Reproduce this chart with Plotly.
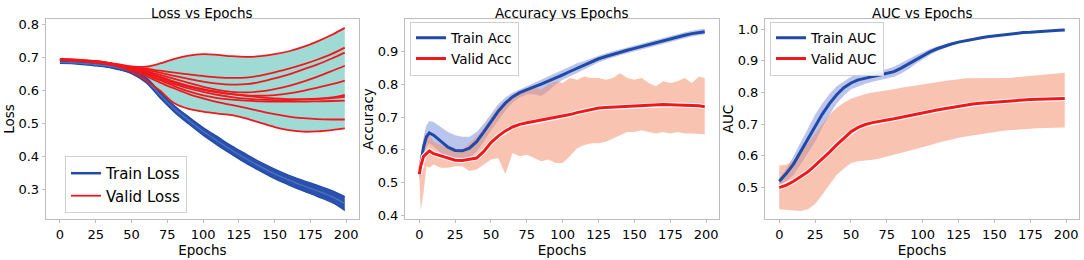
import plotly.graph_objects as go

# ---------------- data ----------------
E1 = [0, 10, 20, 30, 40, 50, 60, 70, 80, 90, 100, 110, 120, 130, 140, 150, 160, 170, 180, 190, 199]
train_loss_hi = [0.689, 0.688, 0.686, 0.681, 0.675, 0.664, 0.641, 0.596, 0.555, 0.521, 0.489, 0.461, 0.433, 0.408, 0.384, 0.363, 0.344, 0.328, 0.313, 0.297, 0.279]
train_loss_mid = [0.686, 0.685, 0.682, 0.677, 0.670, 0.658, 0.633, 0.587, 0.545, 0.510, 0.477, 0.448, 0.420, 0.394, 0.370, 0.348, 0.329, 0.312, 0.296, 0.279, 0.258]
train_loss_lo = [0.683, 0.682, 0.678, 0.673, 0.665, 0.652, 0.625, 0.578, 0.535, 0.499, 0.465, 0.435, 0.407, 0.380, 0.356, 0.333, 0.314, 0.296, 0.279, 0.261, 0.237]
valid_loss_folds = [
    [0.697, 0.695, 0.692, 0.688, 0.681, 0.674, 0.673, 0.683, 0.697, 0.707, 0.711, 0.709, 0.705, 0.703, 0.705, 0.711, 0.720, 0.733, 0.750, 0.770, 0.791],
    [0.696, 0.694, 0.691, 0.687, 0.680, 0.672, 0.667, 0.661, 0.655, 0.650, 0.645, 0.641, 0.639, 0.640, 0.646, 0.656, 0.667, 0.680, 0.695, 0.712, 0.731],
    [0.696, 0.694, 0.691, 0.686, 0.679, 0.671, 0.664, 0.655, 0.645, 0.636, 0.628, 0.622, 0.619, 0.620, 0.627, 0.638, 0.650, 0.665, 0.680, 0.698, 0.716],
    [0.695, 0.693, 0.690, 0.686, 0.679, 0.670, 0.660, 0.648, 0.636, 0.624, 0.612, 0.603, 0.597, 0.595, 0.598, 0.605, 0.615, 0.628, 0.643, 0.660, 0.676],
    [0.695, 0.693, 0.690, 0.685, 0.678, 0.669, 0.657, 0.643, 0.628, 0.615, 0.605, 0.597, 0.590, 0.586, 0.585, 0.587, 0.592, 0.600, 0.610, 0.620, 0.631],
    [0.694, 0.693, 0.689, 0.685, 0.678, 0.668, 0.655, 0.640, 0.625, 0.612, 0.603, 0.595, 0.590, 0.585, 0.580, 0.577, 0.575, 0.575, 0.576, 0.580, 0.588],
    [0.694, 0.692, 0.689, 0.684, 0.677, 0.667, 0.652, 0.635, 0.620, 0.607, 0.597, 0.588, 0.581, 0.576, 0.573, 0.572, 0.572, 0.573, 0.575, 0.578, 0.582],
    [0.694, 0.692, 0.689, 0.684, 0.677, 0.666, 0.650, 0.632, 0.614, 0.598, 0.586, 0.578, 0.573, 0.570, 0.568, 0.567, 0.567, 0.567, 0.568, 0.569, 0.570],
    [0.693, 0.692, 0.688, 0.683, 0.676, 0.664, 0.645, 0.625, 0.607, 0.590, 0.577, 0.566, 0.557, 0.548, 0.538, 0.529, 0.522, 0.517, 0.514, 0.513, 0.513],
    [0.693, 0.691, 0.688, 0.683, 0.674, 0.658, 0.632, 0.600, 0.562, 0.545, 0.537, 0.531, 0.526, 0.516, 0.503, 0.490, 0.481, 0.476, 0.477, 0.481, 0.486],
]

E2 = [0, 1, 3, 5, 7, 10, 15, 20, 25, 30, 35, 40, 45, 50, 55, 60, 65, 70, 75, 80, 85, 90, 95, 100,
      105, 110, 115, 120, 125, 130, 135, 140, 145, 150, 155, 160, 165, 170, 175, 180, 185, 190, 195, 199]
train_acc = [0.53, 0.56, 0.61, 0.64, 0.652, 0.645, 0.625, 0.608, 0.598, 0.597, 0.605, 0.625, 0.655, 0.687, 0.718, 0.743, 0.762, 0.775, 0.785, 0.793, 0.801, 0.81, 0.82, 0.83,
             0.84, 0.85, 0.86, 0.87, 0.879, 0.886, 0.893, 0.899, 0.905, 0.911, 0.917, 0.923, 0.929, 0.935, 0.941, 0.946, 0.951, 0.956, 0.96, 0.962]
train_acc_hi = [0.54, 0.58, 0.64, 0.675, 0.688, 0.685, 0.67, 0.655, 0.645, 0.64, 0.64, 0.655, 0.68, 0.71, 0.74, 0.76, 0.775, 0.785, 0.795, 0.805, 0.815, 0.825, 0.835, 0.845,
                0.855, 0.865, 0.872, 0.88, 0.889, 0.896, 0.902, 0.908, 0.914, 0.92, 0.926, 0.932, 0.938, 0.944, 0.95, 0.955, 0.96, 0.965, 0.97, 0.972]
train_acc_lo = [0.51, 0.53, 0.58, 0.61, 0.62, 0.61, 0.59, 0.575, 0.57, 0.57, 0.575, 0.595, 0.625, 0.66, 0.69, 0.72, 0.745, 0.76, 0.77, 0.77, 0.765, 0.78, 0.8, 0.815,
                0.825, 0.836, 0.848, 0.858, 0.868, 0.876, 0.884, 0.89, 0.896, 0.902, 0.908, 0.914, 0.92, 0.926, 0.932, 0.937, 0.942, 0.947, 0.951, 0.953]
valid_acc = [0.525, 0.55, 0.58, 0.59, 0.597, 0.588, 0.582, 0.575, 0.568, 0.567, 0.57, 0.575, 0.595, 0.622, 0.642, 0.658, 0.67, 0.678, 0.683, 0.687, 0.69, 0.694, 0.698, 0.703,
             0.708, 0.714, 0.719, 0.724, 0.728, 0.73, 0.731, 0.733, 0.735, 0.736, 0.737, 0.738, 0.738, 0.739, 0.738, 0.737, 0.737, 0.737, 0.735, 0.732]
valid_acc_hi = [0.53, 0.56, 0.61, 0.64, 0.645, 0.625, 0.615, 0.605, 0.6, 0.6, 0.62, 0.64, 0.665, 0.7, 0.73, 0.75, 0.765, 0.775, 0.78, 0.79, 0.785, 0.8, 0.81, 0.805,
                0.82, 0.815, 0.825, 0.82, 0.82, 0.815, 0.82, 0.835, 0.82, 0.815, 0.82, 0.805, 0.795, 0.81, 0.805, 0.81, 0.82, 0.805, 0.825, 0.82]
valid_acc_lo = [0.52, 0.415, 0.47, 0.55, 0.545, 0.555, 0.545, 0.545, 0.55, 0.55, 0.535, 0.54, 0.555, 0.57, 0.575, 0.525, 0.59, 0.58, 0.585, 0.575, 0.565, 0.57, 0.56, 0.56,
                0.58, 0.605, 0.615, 0.62, 0.62, 0.625, 0.635, 0.645, 0.655, 0.655, 0.66, 0.655, 0.65, 0.655, 0.65, 0.655, 0.65, 0.65, 0.648, 0.648]

E3 = [0, 5, 10, 15, 20, 25, 30, 35, 40, 45, 50, 55, 60, 65, 70, 75, 80, 85, 90, 95, 100,
      105, 110, 115, 120, 125, 130, 135, 140, 145, 150, 155, 160, 165, 170, 175, 180, 185, 190, 195, 199]
train_auc = [0.52, 0.545, 0.575, 0.615, 0.655, 0.695, 0.732, 0.765, 0.793, 0.815, 0.83, 0.84, 0.846, 0.85, 0.855, 0.86, 0.866, 0.877, 0.89, 0.904, 0.917,
             0.928, 0.938, 0.946, 0.953, 0.959, 0.964, 0.968, 0.972, 0.976, 0.979, 0.982, 0.985, 0.987, 0.989, 0.99, 0.992, 0.993, 0.995, 0.996, 0.997]
train_auc_hi = [0.53, 0.56, 0.6, 0.645, 0.69, 0.73, 0.765, 0.795, 0.82, 0.835, 0.85, 0.858, 0.862, 0.865, 0.869, 0.874, 0.881, 0.892, 0.905, 0.917, 0.928,
                0.937, 0.945, 0.952, 0.958, 0.963, 0.968, 0.971, 0.975, 0.978, 0.981, 0.984, 0.987, 0.989, 0.991, 0.992, 0.994, 0.995, 0.997, 0.998, 0.999]
train_auc_lo = [0.505, 0.52, 0.54, 0.575, 0.61, 0.645, 0.69, 0.73, 0.765, 0.79, 0.81, 0.82, 0.828, 0.834, 0.84, 0.845, 0.85, 0.86, 0.873, 0.89, 0.905,
                0.918, 0.93, 0.94, 0.948, 0.955, 0.96, 0.965, 0.969, 0.973, 0.977, 0.98, 0.983, 0.985, 0.987, 0.988, 0.99, 0.991, 0.993, 0.994, 0.995]
valid_auc = [0.5, 0.508, 0.52, 0.535, 0.55, 0.57, 0.59, 0.612, 0.635, 0.657, 0.676, 0.69, 0.699, 0.705, 0.71, 0.713, 0.717, 0.722, 0.727, 0.731, 0.735,
             0.74, 0.745, 0.749, 0.753, 0.757, 0.761, 0.764, 0.766, 0.768, 0.77, 0.772, 0.774, 0.775, 0.777, 0.778, 0.779, 0.779, 0.78, 0.781, 0.781]
valid_auc_hi = [0.57, 0.572, 0.585, 0.61, 0.64, 0.67, 0.7, 0.73, 0.752, 0.768, 0.78, 0.788, 0.795, 0.8, 0.803, 0.806, 0.81, 0.815, 0.818, 0.821, 0.824,
                0.828, 0.832, 0.836, 0.84, 0.842, 0.845, 0.845, 0.844, 0.845, 0.846, 0.845, 0.846, 0.848, 0.85, 0.852, 0.855, 0.857, 0.859, 0.861, 0.862]
valid_auc_lo = [0.432, 0.43, 0.428, 0.426, 0.432, 0.448, 0.478, 0.51, 0.54, 0.56, 0.578, 0.583, 0.585, 0.588, 0.592, 0.598, 0.603, 0.608, 0.614, 0.62, 0.627,
                0.634, 0.641, 0.647, 0.652, 0.657, 0.661, 0.665, 0.669, 0.673, 0.676, 0.679, 0.681, 0.683, 0.685, 0.686, 0.687, 0.688, 0.689, 0.69, 0.69]

titles = ["Loss vs Epochs", "Accuracy vs Epochs", "AUC vs Epochs"]
ylabels = ["Loss", "Accuracy", "AUC"]
xticks = [0, 25, 50, 75, 100, 125, 150, 175, 200]
yticks1 = [0.3, 0.4, 0.5, 0.6, 0.7, 0.8]
yticks2 = [0.4, 0.5, 0.6, 0.7, 0.8, 0.9]
yticks3 = [0.4, 0.5, 0.6, 0.7, 0.8, 0.9, 1.0]

# ---------------- styling ----------------
BLUE = "#1f4aa5"
RED = "#f0181c"
CYAN = "#9fdad5"
BLUE_BAND = "rgba(75,100,205,0.38)"
RED_BAND = "rgba(244,140,105,0.52)"
FONT = "DejaVu Sans"
W, H = 1084, 260


def px(x):
    return x / W


def py(y):
    return 1 - y / H


fig = go.Figure()

# ---- panel 1 ----
vmax = [max(v) for v in zip(*valid_loss_folds)]
vmin = [min(v) for v in zip(*valid_loss_folds)]
fig.add_trace(go.Scatter(x=E1, y=vmax, mode="lines", line=dict(width=0, shape="spline"),
                         showlegend=False, hoverinfo="skip", xaxis="x", yaxis="y"))
fig.add_trace(go.Scatter(x=E1, y=vmin, mode="lines", line=dict(width=0, shape="spline"),
                         fill="tonexty", fillcolor=CYAN, showlegend=False, hoverinfo="skip", xaxis="x", yaxis="y"))
fig.add_trace(go.Scatter(x=E1, y=train_loss_hi, mode="lines", line=dict(width=1.2, color=BLUE, shape="spline"),
                         showlegend=False, hoverinfo="skip", xaxis="x", yaxis="y"))
fig.add_trace(go.Scatter(x=E1, y=train_loss_lo, mode="lines", line=dict(width=1.2, color=BLUE, shape="spline"),
                         fill="tonexty", fillcolor="#2a52ad", showlegend=False, hoverinfo="skip", xaxis="x", yaxis="y"))
fig.add_trace(go.Scatter(x=E1, y=train_loss_mid, mode="lines", line=dict(width=1.2, color="#4f72c6", shape="spline"),
                         showlegend=False, hoverinfo="skip", xaxis="x", yaxis="y"))
fig.add_trace(go.Scatter(x=[None], y=[None], mode="lines", line=dict(width=2.5, color=BLUE),
                         name="Train Loss", legend="legend", xaxis="x", yaxis="y"))
for i, fold in enumerate(valid_loss_folds):
    fig.add_trace(go.Scatter(x=E1, y=fold, mode="lines", line=dict(width=1.8, color=RED, shape="spline"),
                             name="Valid Loss", showlegend=(i == 0), legend="legend", xaxis="x", yaxis="y"))


def band(xs, hi, lo, bandcol, ax, ay):
    fig.add_trace(go.Scatter(x=xs, y=hi, mode="lines", line=dict(width=0), showlegend=False,
                             hoverinfo="skip", xaxis=ax, yaxis=ay))
    fig.add_trace(go.Scatter(x=xs, y=lo, mode="lines", line=dict(width=0), fill="tonexty",
                             fillcolor=bandcol, showlegend=False, hoverinfo="skip", xaxis=ax, yaxis=ay))


def main_line(xs, mean, color, name, ax, ay, leg, halo=False):
    if halo:
        fig.add_trace(go.Scatter(x=xs, y=mean, mode="lines", line=dict(width=5, color="white"),
                                 showlegend=False, hoverinfo="skip", xaxis=ax, yaxis=ay))
    fig.add_trace(go.Scatter(x=xs, y=mean, mode="lines", line=dict(width=3, color=color),
                             name=name, legend=leg, xaxis=ax, yaxis=ay))


# ---- panel 2 ----
band(E2, train_acc_hi, train_acc_lo, BLUE_BAND, "x2", "y2")
band(E2, valid_acc_hi, valid_acc_lo, RED_BAND, "x2", "y2")
main_line(E2, train_acc, BLUE, "Train Acc", "x2", "y2", "legend2")
main_line(E2, valid_acc, RED, "Valid Acc", "x2", "y2", "legend2", halo=True)

# ---- panel 3 ----
band(E3, train_auc_hi, train_auc_lo, BLUE_BAND, "x3", "y3")
band(E3, valid_auc_hi, valid_auc_lo, RED_BAND, "x3", "y3")
main_line(E3, train_auc, BLUE, "Train AUC", "x3", "y3", "legend3")
main_line(E3, valid_auc, RED, "Valid AUC", "x3", "y3", "legend3", halo=True)

# ---------------- layout ----------------
xdoms = [(px(45.7), px(359)), (px(405), px(719)), (px(765), px(1079))]
ydom = (py(222.3), py(18.3))
yranges = [(0.211, 0.818), (0.388, 1.001), (0.401, 1.032)]
yticks = [yticks1, yticks2, yticks3]

axis_common = dict(showline=True, mirror=True, linecolor="#bdbdbd", linewidth=1, showgrid=False,
                   zeroline=False, ticks="outside", ticklen=3, tickcolor="#bdbdbd", tickwidth=1,
                   tickfont=dict(family=FONT, size=13, color="black"))
layout = dict(width=W, height=H, margin=dict(l=0, r=0, t=0, b=0),
              plot_bgcolor="white", paper_bgcolor="white", font=dict(family=FONT, color="black"))
for i in range(3):
    s = "" if i == 0 else str(i + 1)
    layout["xaxis" + s] = dict(axis_common, domain=list(xdoms[i]), range=[-9.95, 208.95],
                               tickvals=xticks, anchor="y" + s,
                               title=dict(text="Epochs", font=dict(family=FONT, size=13.5), standoff=0))
    layout["yaxis" + s] = dict(axis_common, domain=list(ydom), range=list(yranges[i]),
                               tickvals=yticks[i], tickformat=".1f", anchor="x" + s,
                               title=dict(text=ylabels[i], font=dict(family=FONT, size=13.5), standoff=0))

leg_common = dict(bgcolor="rgba(255,255,255,0.85)", bordercolor="#d0d0d0", borderwidth=1,
                  xanchor="left", yanchor="top", tracegroupgap=0, itemwidth=30, traceorder="normal")
layout["legend"] = dict(leg_common, x=px(65), y=py(158), font=dict(family=FONT, size=15))
layout["legend2"] = dict(leg_common, x=px(410), y=py(21), font=dict(family=FONT, size=13.5))
layout["legend3"] = dict(leg_common, x=px(770), y=py(21), font=dict(family=FONT, size=13.5))

annotations = []
centers = [(xdoms[i][0] + xdoms[i][1]) / 2 for i in range(3)]
for i in range(3):
    annotations.append(dict(text=titles[i], x=centers[i], y=py(12), xref="paper", yref="paper",
                            showarrow=False, xanchor="center", yanchor="middle",
                            font=dict(family=FONT, size=13.5, color="black")))
layout["annotations"] = annotations

fig.update_layout(**layout)
fig.write_html("out.html", config={"displayModeBar": False},
               post_script="document.body.style.margin='0';")
